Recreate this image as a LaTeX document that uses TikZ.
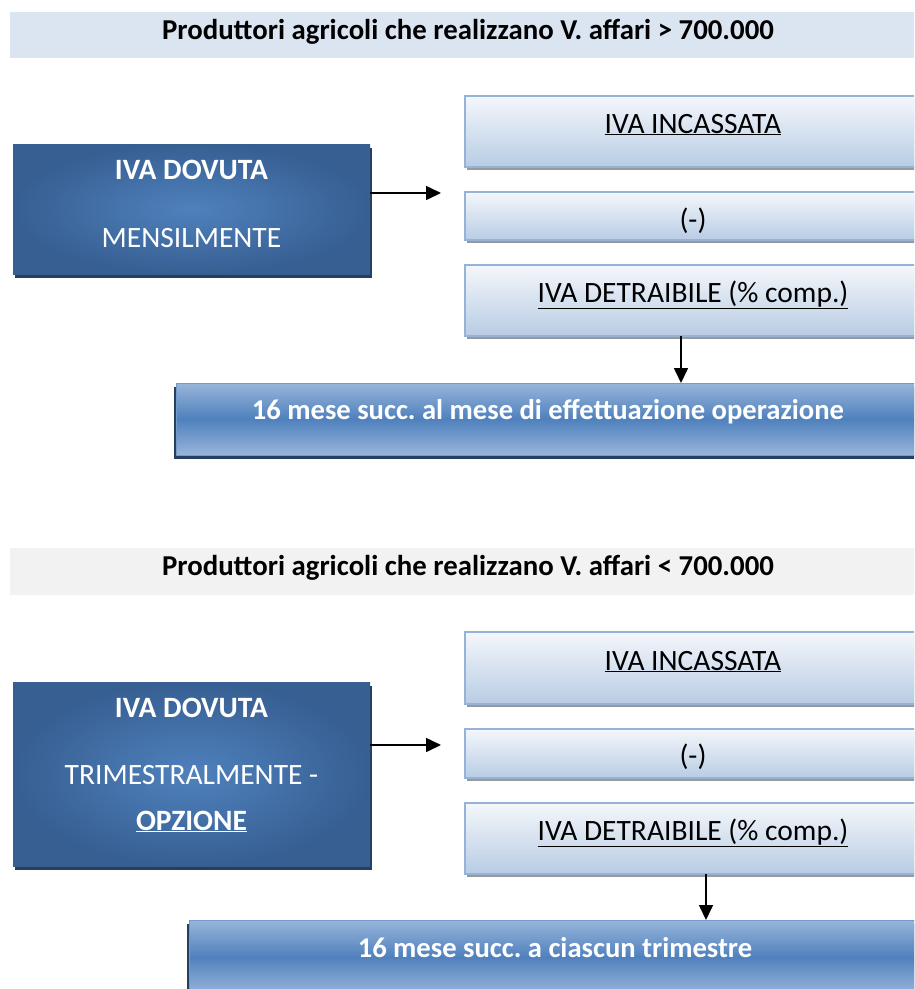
\documentclass[tikz,border=0pt]{standalone}
\usepackage{fontspec}
\setmainfont{Carlito}
\usetikzlibrary{arrows.meta,shadows}
\frenchspacing

\definecolor{hdrblue}{HTML}{DBE5F1}
\definecolor{hdrgray}{HTML}{F2F2F2}
\definecolor{dkin}{HTML}{4F81BD}
\definecolor{dkout}{HTML}{375F92}
\definecolor{dkshadow}{HTML}{243F60}
\definecolor{lttop}{HTML}{F4F7FB}
\definecolor{ltbot}{HTML}{B8CCE4}
\definecolor{ltline}{HTML}{95B3D7}
\definecolor{barmid}{HTML}{4F81BD}
\definecolor{barend}{HTML}{98B5DA}

\tikzset{
  box/.style={rectangle, anchor=north west, inner sep=0pt, outer sep=0pt,
    font=\fontsize{29.5}{35}\selectfont},
  hdr/.style={box, minimum width=916pt, font=\fontsize{28.8}{34}\selectfont\bfseries,
    text height=27pt},
  dkbox/.style={box, minimum width=357pt, text=white, align=center,
    inner color=dkin, outer color=dkout,
    general shadow={fill=dkshadow, shadow xshift=2pt, shadow yshift=-4pt}},
  ltbox/.style={box, minimum width=456pt, draw=ltline, line width=1.2pt,
    top color=lttop, bottom color=ltbot, text height=37pt, text depth=34pt,
    general shadow={fill=black!40, shadow xshift=2pt, shadow yshift=-3pt}},
  barbox/.style={box, draw=barmid!80, line width=1pt, text=white,
    font=\fontsize{28.6}{34}\selectfont\bfseries,
    top color=barend, bottom color=barend, middle color=barmid,
    general shadow={fill=dkshadow, shadow xshift=-2pt, shadow yshift=-4pt}},
  arr/.style={-{Triangle[length=15pt,width=14pt]}, line width=1.6pt}
}

\begin{document}
\begin{tikzpicture}[x=1pt,y=-1pt]
  \clip (0,0) rectangle (914,989);
  \fill[white] (0,0) rectangle (914,989);

  % section 1
  \node[hdr, fill=hdrblue, text depth=19pt] (hdrA) at (10,12)
    {Produttori agricoli che realizzano V. affari > 700.000};
  \node[dkbox, text height=103pt, text depth=27pt] (dkA) at (13,144)
    {\textbf{IVA DOVUTA}\\[33pt]MENSILMENTE};
  \node[ltbox] (ltA) at (465,96) {\underline{IVA INCASSATA}};
  \node[ltbox, text depth=11pt] (ltB) at (465,192) {(-)};
  \node[ltbox] (ltC) at (465,265) {\underline{IVA DETRAIBILE (\% comp.)}};
  \node[barbox, minimum width=744pt, text height=36pt, text depth=36pt] (barA) at (176,383)
    {16 mese succ. al mese di effettuazione operazione};

  \coordinate (tipA) at (441,193);
  \draw[arr] (dkA.east |- tipA) -- (tipA);
  \draw[arr] ([xshift=-12pt]ltC.south) -- ([xshift=-12pt]ltC.south |- barA.north);

  % section 2
  \node[hdr, fill=hdrgray, text depth=20pt] (hdrB) at (10,548)
    {Produttori agricoli che realizzano V. affari < 700.000};
  \node[dkbox, text height=148pt, text depth=36pt] (dkB) at (13,682)
    {\textbf{IVA DOVUTA}\\[32pt]TRIMESTRALMENTE -\\[11pt]\textbf{\underline{OPZIONE}}};
  \node[ltbox, text height=38pt] (ltD) at (465,632) {\underline{IVA INCASSATA}};
  \node[ltbox, text height=36pt, text depth=13pt] (ltE) at (465,729) {(-)};
  \node[ltbox] (ltF) at (465,803) {\underline{IVA DETRAIBILE (\% comp.)}};
  \node[barbox, minimum width=732pt, text height=37pt, text depth=37pt] (barB) at (189,920)
    {16 mese succ. a ciascun trimestre};

  \coordinate (tipB) at (441,745);
  \draw[arr] (dkB.east |- tipB) -- (tipB);
  \draw[arr] ([xshift=13pt]ltF.south) -- ([xshift=13pt]ltF.south |- barB.north);
\end{tikzpicture}
\end{document}
